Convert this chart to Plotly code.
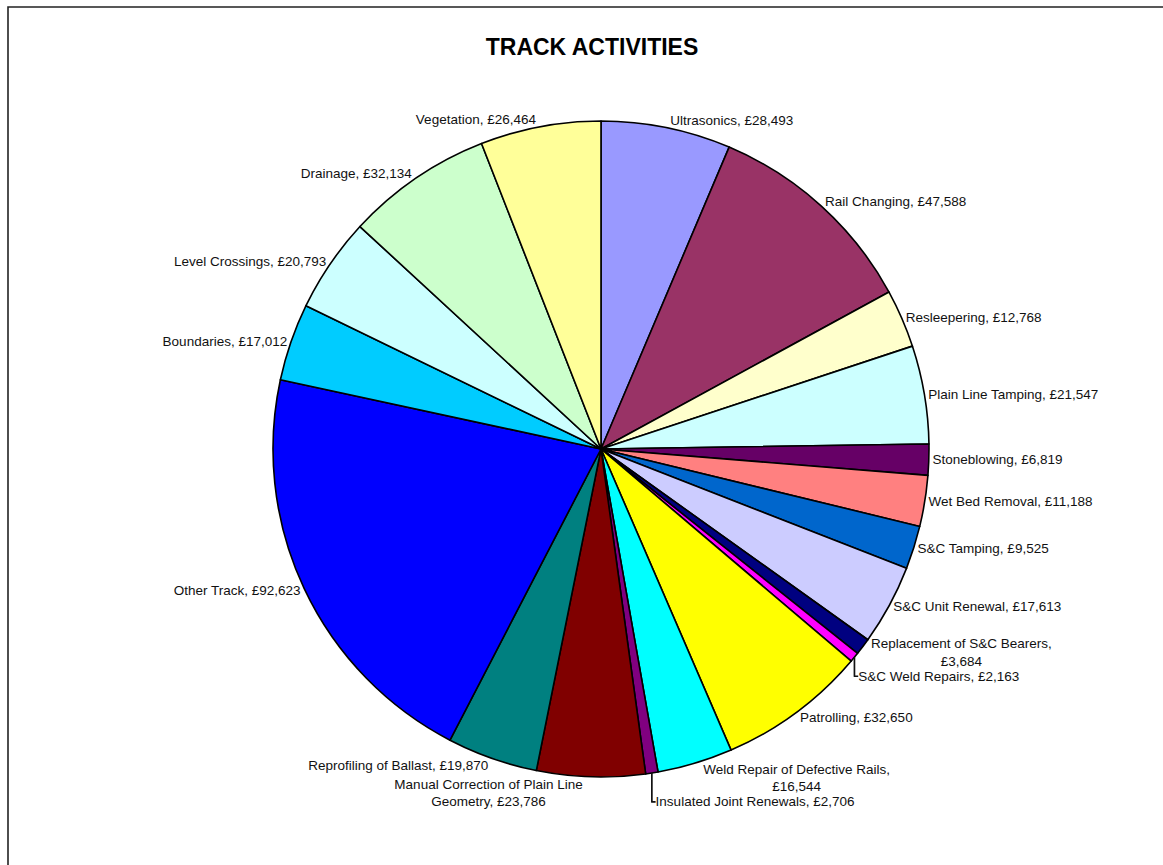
import plotly.graph_objects as go

labels = ["Ultrasonics", "Rail Changing", "Resleepering", "Plain Line Tamping",
          "Stoneblowing", "Wet Bed Removal", "S&C Tamping", "S&C Unit Renewal",
          "Replacement of S&C Bearers", "S&C Weld Repairs", "Patrolling",
          "Weld Repair of Defective Rails", "Insulated Joint Renewals",
          "Manual Correction of Plain Line Geometry", "Reprofiling of Ballast",
          "Other Track", "Boundaries", "Level Crossings", "Drainage", "Vegetation"]
values = [28493, 47588, 12768, 21547, 6819, 11188, 9525, 17613, 3684, 2163, 32650,
          16544, 2706, 23786, 19870, 92623, 17012, 20793, 32134, 26464]
colors = ["#9999FF", "#993366", "#FFFFCC", "#CCFFFF", "#660066", "#FF8080", "#0066CC",
          "#CCCCFF", "#000080", "#FF00FF", "#FFFF00", "#00FFFF", "#800080", "#800000",
          "#008080", "#0000FF", "#00CCFF", "#CCFFFF", "#CCFFCC", "#FFFF99"]

# wrapped label texts as shown in the chart
label_text = []
for name, v in zip(labels, values):
    money = f"£{v:,}"
    if name == "Manual Correction of Plain Line Geometry":
        label_text.append(f"Manual Correction of Plain Line<br>Geometry, {money}")
    elif name in ("Replacement of S&C Bearers", "Weld Repair of Defective Rails"):
        label_text.append(f"{name},<br>{money}")
    else:
        label_text.append(f"{name}, {money}")

fig = go.Figure(go.Pie(
    labels=labels, values=values, text=label_text, sort=False,
    direction="clockwise", rotation=0,
    marker=dict(colors=colors, line=dict(color="black", width=1.6)),
    texttemplate="%{text}", textposition="outside",
    textfont=dict(family="Liberation Sans", size=13.5, color="#111111"),
    hoverinfo="label+value", showlegend=False, automargin=False,
    domain=dict(x=[601/1163 - 0.3, 601/1163 + 0.3], y=[88/865, 744/865]),
))

fig.update_layout(
    width=1163, height=865, autosize=False,
    margin=dict(l=0, r=0, t=0, b=0, pad=0, autoexpand=False),
    paper_bgcolor="white",
    title=dict(text="<b>TRACK ACTIVITIES</b>", x=592/1163, xanchor="center", y=1-47/865, yanchor="middle",
               font=dict(family="Liberation Sans", size=23, color="black")),
    shapes=[dict(type="rect", xref="paper", yref="paper", x0=8/1163, x1=1.05, y0=-0.05, y1=1-7/865,
                 line=dict(color="#222222", width=1.6), fillcolor="rgba(0,0,0,0)", layer="below")],
)

fig.write_html("out.html")
